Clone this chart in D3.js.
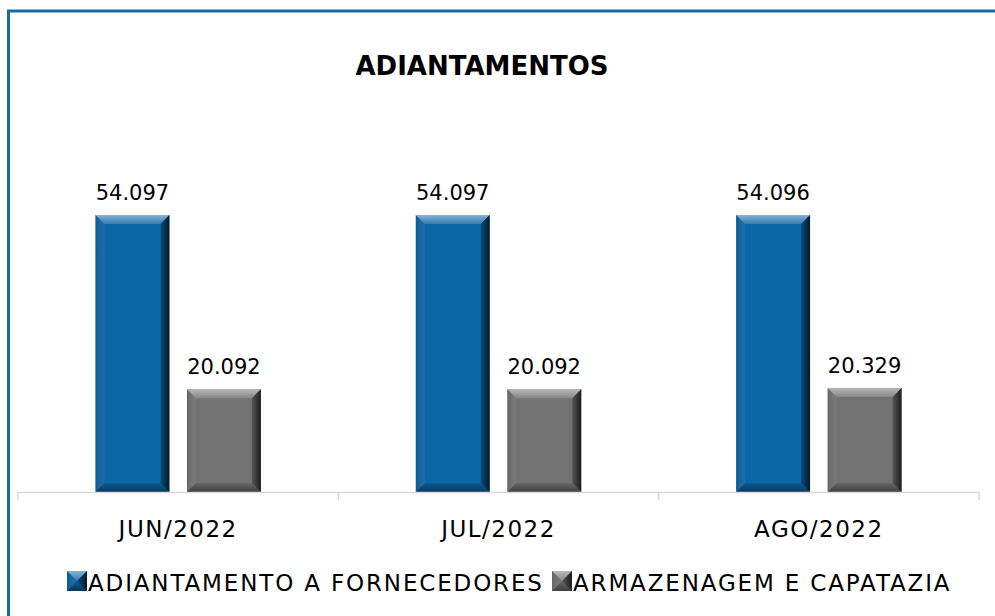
<!DOCTYPE html>
<html>
<head>
<meta charset="utf-8">
<script src="https://cdn.jsdelivr.net/npm/d3@7"></script>
<style>
  body { margin: 0; background: #fff; }
  svg { display: block; font-family: "DejaVu Sans", sans-serif; }
</style>
</head>
<body>
<div id="chart"></div>
<script>
// data
var months = ["JUN/2022", "JUL/2022", "AGO/2022"];
var seriesNames = ["ADIANTAMENTO A FORNECEDORES", "ARMAZENAGEM E CAPATAZIA"];
var adiantamento = [54097, 54097, 54096];
var armazenagem = [20092, 20092, 20329];
var seriesColors = ["#0d66a6", "#727272"];

var width = 995, height = 616;
var svg = d3.select("#chart").append("svg")
    .attr("width", width)
    .attr("height", height);

var defs = svg.append("defs");

// gradients for the bevel edges
function grad(id, x2, y2, stops) {
    var g = defs.append("linearGradient").attr("id", id)
        .attr("x1", 0).attr("y1", 0).attr("x2", x2).attr("y2", y2);
    stops.forEach(function (s) {
        g.append("stop").attr("offset", s[0]).attr("stop-color", s[1]).attr("stop-opacity", s[2]);
    });
}
grad("topEdge", 0, 1, [[0, "#fff", 0.5], [1, "#fff", 0.15]]);
grad("rightEdge", 1, 0, [[0, "#000", 0.25], [1, "#000", 0.75]]);
grad("bottomEdge", 0, 1, [[0, "#000", 0.1], [1, "#000", 0.45]]);
grad("leftEdge", 1, 0, [[0, "#000", 0.12], [1, "#fff", 0.05]]);

// outer frame (only top and left visible)
svg.append("rect")
    .attr("x", 8.5).attr("y", 11)
    .attr("width", 1200).attr("height", 1000)
    .attr("fill", "none")
    .attr("stroke", "#1a68a8")
    .attr("stroke-width", 3);

svg.append("text")
    .attr("x", 482).attr("y", 75)
    .attr("text-anchor", "middle")
    .attr("font-weight", "bold")
    .attr("font-size", 26)
    .attr("fill", "#000")
    .text("ADIANTAMENTOS");

var plot = {left: 18, right: 979, bottom: 492};

var x0 = d3.scaleBand()
    .domain(months)
    .range([plot.left, plot.right]);

var x1 = d3.scaleBand()
    .domain(seriesNames)
    .range([0, x0.bandwidth()])
    .paddingInner(0.192)
    .paddingOuter(0.846);

var y = d3.scaleLinear()
    .domain([0, 60000])
    .range([plot.bottom, 184.8]);

var fmt = d3.formatLocale({decimal: ",", thousands: ".", grouping: [3], currency: ["R$", ""]}).format(",d");

var rows = months.map(function (m, i) {
    return {month: m, values: [adiantamento[i], armazenagem[i]]};
});

// draws a rectangle with bevelled edges
function bevel(g, x, yy, w, h, color, b) {
    g.append("rect").attr("x", x).attr("y", yy).attr("width", w).attr("height", h).attr("fill", color);
    var x2 = x + w, y2 = yy + h;
    var sides = [
        ["topEdge", [[x, yy], [x2, yy], [x2 - b, yy + b], [x + b, yy + b]]],
        ["leftEdge", [[x, yy], [x + b, yy + b], [x + b, y2 - b], [x, y2]]],
        ["rightEdge", [[x2, yy], [x2, y2], [x2 - b, y2 - b], [x2 - b, yy + b]]],
        ["bottomEdge", [[x, y2], [x + b, y2 - b], [x2 - b, y2 - b], [x2, y2]]]
    ];
    sides.forEach(function (s) {
        g.append("polygon")
            .attr("points", s[1].map(function (p) { return p.join(","); }).join(" "))
            .attr("fill", "url(#" + s[0] + ")");
    });
}

var groups = svg.selectAll("g.month")
    .data(rows)
    .enter().append("g")
    .attr("class", "month")
    .attr("transform", function (d) { return "translate(" + x0(d.month) + ",0)"; });

groups.each(function (d) {
    var g = d3.select(this);
    d.values.forEach(function (v, k) {
        var bx = x1(seriesNames[k]);
        bevel(g, bx, y(v), x1.bandwidth(), y(0) - y(v), seriesColors[k], 9);
        g.append("text")
            .attr("x", bx + x1.bandwidth() / 2)
            .attr("y", y(v) - 15)
            .attr("text-anchor", "middle")
            .attr("font-size", 21)
            .attr("fill", "#000")
            .text(fmt(v));
    });
});

// category axis
var axis = svg.append("g");
axis.append("line")
    .attr("x1", plot.left).attr("x2", plot.right)
    .attr("y1", plot.bottom + 0.5).attr("y2", plot.bottom + 0.5)
    .attr("stroke", "#d9d9d9").attr("stroke-width", 1.5);
var tickPos = months.map(function (m) { return x0(m); }).concat([plot.right]);
axis.selectAll("line.tick")
    .data(tickPos)
    .enter().append("line")
    .attr("class", "tick")
    .attr("x1", function (d) { return d; }).attr("x2", function (d) { return d; })
    .attr("y1", plot.bottom).attr("y2", plot.bottom + 8)
    .attr("stroke", "#d9d9d9").attr("stroke-width", 1.5);
axis.selectAll("text")
    .data(months)
    .enter().append("text")
    .attr("x", function (d) { return x0(d) + x0.bandwidth() / 2; })
    .attr("y", 537)
    .attr("text-anchor", "middle")
    .attr("font-size", 23)
    .attr("letter-spacing", 1.5)
    .attr("fill", "#000")
    .text(function (d) { return d; });

// legend
var legendX = [67, 552];
var legend = svg.selectAll("g.legend")
    .data(seriesNames)
    .enter().append("g")
    .attr("class", "legend")
    .attr("transform", function (d, i) { return "translate(" + legendX[i] + ",571)"; });
legend.each(function (d, i) {
    bevel(d3.select(this), 0, 0, 20, 20, seriesColors[i], 10);
});
legend.append("text")
    .attr("x", 21).attr("y", 20)
    .attr("font-size", 23)
    .attr("letter-spacing", 1.85)
    .attr("fill", "#000")
    .text(function (d) { return d; });
</script>
</body>
</html>
